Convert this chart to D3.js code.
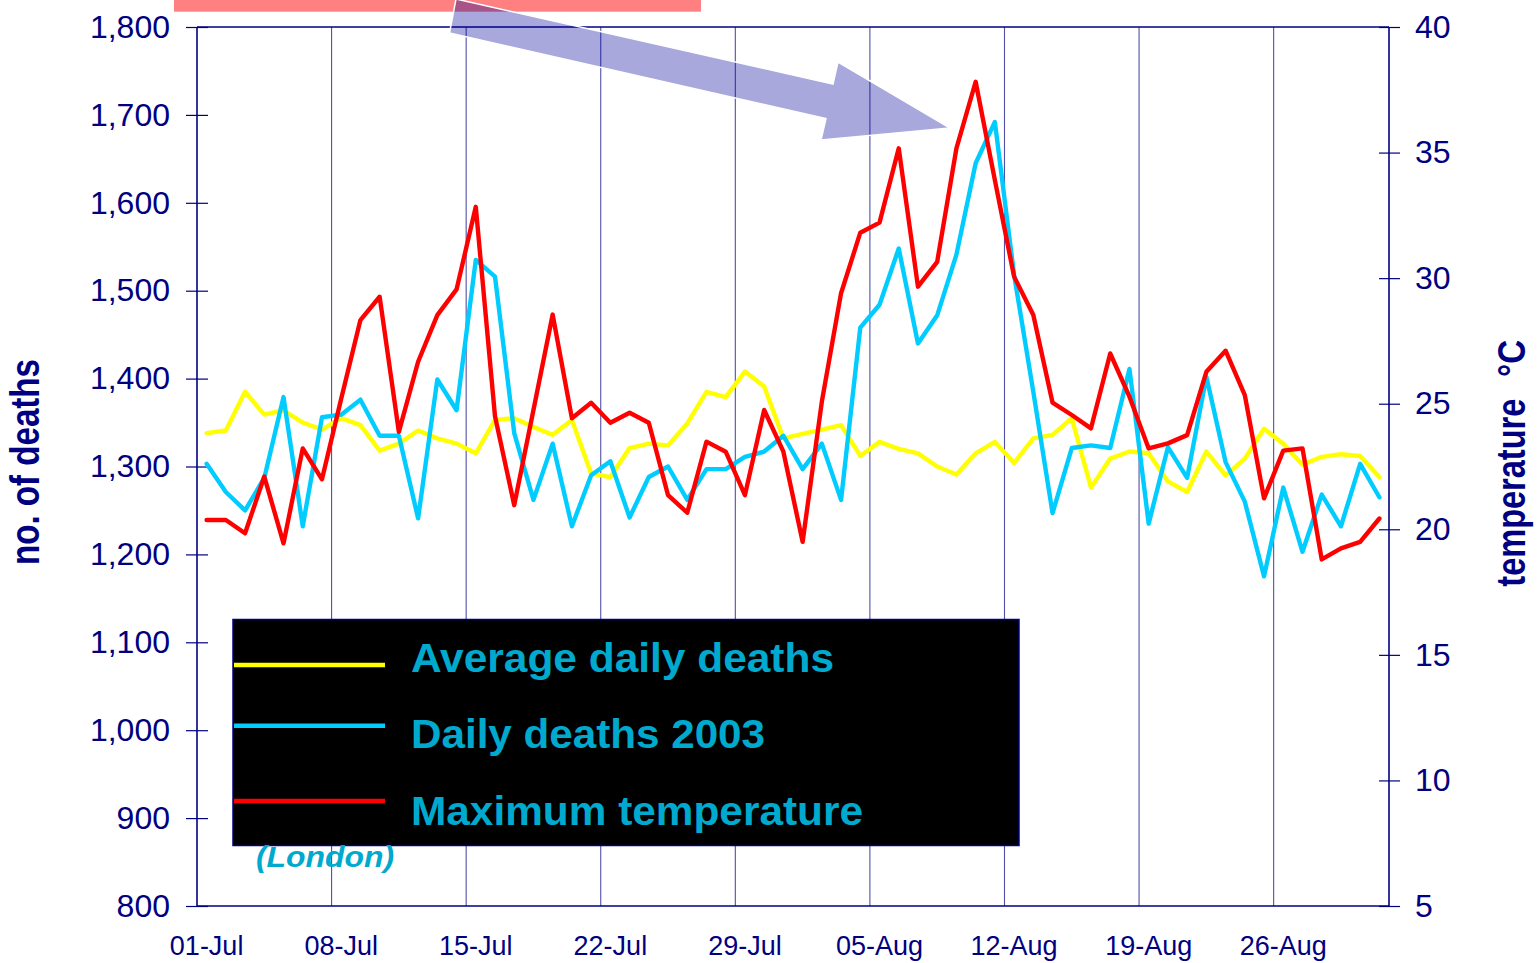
<!DOCTYPE html>
<html><head><meta charset="utf-8">
<script src="https://cdn.jsdelivr.net/npm/d3@7"></script>
<style>html,body{margin:0;padding:0;background:#fff;overflow:hidden}</style>
</head><body>
<svg id="chart" width="1539" height="963"></svg>
<script>
const categories = [
 "01-Jul","02-Jul","03-Jul","04-Jul","05-Jul","06-Jul","07-Jul","08-Jul","09-Jul","10-Jul",
 "11-Jul","12-Jul","13-Jul","14-Jul","15-Jul","16-Jul","17-Jul","18-Jul","19-Jul","20-Jul",
 "21-Jul","22-Jul","23-Jul","24-Jul","25-Jul","26-Jul","27-Jul","28-Jul","29-Jul","30-Jul",
 "31-Jul","01-Aug","02-Aug","03-Aug","04-Aug","05-Aug","06-Aug","07-Aug","08-Aug","09-Aug",
 "10-Aug","11-Aug","12-Aug","13-Aug","14-Aug","15-Aug","16-Aug","17-Aug","18-Aug","19-Aug",
 "20-Aug","21-Aug","22-Aug","23-Aug","24-Aug","25-Aug","26-Aug","27-Aug","28-Aug","29-Aug",
 "30-Aug","31-Aug"];
const tickLabels = ["01-Jul","08-Jul","15-Jul","22-Jul","29-Jul","05-Aug","12-Aug","19-Aug","26-Aug"];
const averageDailyDeaths = [
 1338,1341,1385,1359,1364,1350,1342,1355,1347,1318,
 1326,1341,1332,1326,1315,1353,1355,1345,1336,1353,
 1292,1288,1321,1326,1324,1349,1385,1379,1408,1391,
 1332,1337,1342,1347,1312,1328,1320,1315,1300,1291,
 1315,1328,1304,1332,1336,1355,1276,1309,1317,1315,
 1283,1271,1317,1290,1309,1343,1326,1302,1311,1314,
 1312,1288];
const dailyDeaths2003 = [
 1303,1271,1250,1287,1379,1232,1356,1359,1376,1335,
 1335,1241,1399,1364,1535,1516,1338,1262,1326,1232,
 1290,1306,1242,1288,1300,1262,1297,1297,1311,1317,
 1335,1297,1326,1262,1458,1484,1548,1440,1472,1541,
 1645,1692,1518,1385,1247,1321,1324,1321,1411,1235,
 1322,1287,1402,1305,1260,1175,1276,1203,1268,1232,
 1303,1265];
const maximumTemperature = [
 20.37,20.37,19.84,22.1,19.44,23.22,21.99,25.2,28.33,29.26,
 23.88,26.67,28.53,29.55,32.84,24.5,20.96,24.75,28.55,24.42,
 25.04,24.24,24.64,24.24,21.36,20.66,23.49,23.09,21.36,24.75,
 23.09,19.5,25.08,29.4,31.81,32.21,35.17,29.66,30.65,35.17,
 37.82,33.9,30.06,28.53,25.04,24.55,24.02,27.0,25.28,23.22,
 23.42,23.75,26.27,27.11,25.34,21.23,23.13,23.22,18.8,19.24,
 19.5,20.43];
const deathTicks = [800,900,1000,1100,1200,1300,1400,1500,1600,1700,1800];
const tempTicks = [5,10,15,20,25,30,35,40];
const seriesNames = ["Average daily deaths","Daily deaths 2003","Maximum temperature"];
const leftTitle = "no. of deaths";
const rightTitle = "temperature";
const rightUnit = "°C";
const placeNote = "(London)";

const svg = d3.select("#chart");
const FONT = "'Liberation Sans', Arial, Helvetica, sans-serif";
const NAVY = "#000080";
const TEAL = "#00A9CE";
const colors = ["#FFFF00", "#00CCFF", "#FF0000"];
const m = {left:197, right:1389, top:27, bottom:906};

const x = d3.scaleBand().domain(categories).range([m.left, m.right]).padding(0);
const yL = d3.scaleLinear().domain([800, 1800]).range([m.bottom, m.top]);
const yR = d3.scaleLinear().domain([5, 40]).range([m.bottom, m.top]);
const cx = d => x(d) + x.bandwidth() / 2;

// pink banner (partially off-page)
svg.append("rect").attr("x", 174).attr("y", -10).attr("width", 527).attr("height", 21.7)
  .attr("fill", "#FF8080");

// vertical gridlines at week boundaries
const grid = svg.append("g");
tickLabels.slice(1).forEach(lab => {
  const gx = x(lab);
  grid.append("line").attr("x1", gx).attr("x2", gx).attr("y1", m.top).attr("y2", m.bottom)
    .attr("stroke", "#5050A8").attr("stroke-width", 1.1);
});

// plot border
svg.append("line").attr("x1", m.left).attr("x2", m.right).attr("y1", m.top).attr("y2", m.top)
  .attr("stroke", NAVY).attr("stroke-width", 1.3);
svg.append("line").attr("x1", m.left).attr("x2", m.right).attr("y1", m.bottom).attr("y2", m.bottom)
  .attr("stroke", NAVY).attr("stroke-width", 1.6);
svg.append("line").attr("x1", m.left).attr("x2", m.left).attr("y1", m.top).attr("y2", m.bottom)
  .attr("stroke", NAVY).attr("stroke-width", 1.6);
svg.append("line").attr("x1", m.right).attr("x2", m.right).attr("y1", m.top).attr("y2", m.bottom)
  .attr("stroke", NAVY).attr("stroke-width", 1.6);

// left axis
const gl = svg.append("g").attr("transform", `translate(${m.left},0)`)
  .call(d3.axisLeft(yL).tickValues(deathTicks).tickFormat(d3.format(",")).tickSizeInner(11).tickSizeOuter(0).tickPadding(16));
gl.select(".domain").remove();
gl.selectAll(".tick line").attr("x1", -11).attr("x2", 11).attr("stroke", NAVY).attr("stroke-width", 1.2);
gl.selectAll(".tick text").attr("font-family", FONT).attr("font-size", 32).attr("fill", NAVY).attr("x", -27);

// right axis
const gr = svg.append("g").attr("transform", `translate(${m.right},0)`)
  .call(d3.axisRight(yR).tickValues(tempTicks).tickSizeInner(11).tickSizeOuter(0).tickPadding(16));
gr.select(".domain").remove();
gr.selectAll(".tick line").attr("x1", -10).attr("x2", 11).attr("stroke", NAVY).attr("stroke-width", 1.2);
gr.selectAll(".tick text").attr("font-family", FONT).attr("font-size", 32).attr("fill", NAVY).attr("x", 26);

// bottom axis
const gb = svg.append("g").attr("transform", `translate(0,${m.bottom})`)
  .call(d3.axisBottom(x).tickValues(tickLabels).tickSize(0).tickPadding(30));
gb.select(".domain").remove();
gb.selectAll(".tick text").attr("font-family", FONT).attr("font-size", 27).attr("fill", NAVY);

// lines
const seriesData = [
  {vals: averageDailyDeaths, y: yL},
  {vals: dailyDeaths2003, y: yL},
  {vals: maximumTemperature, y: yR}
];
seriesData.forEach((s, k) => {
  const line = d3.line().x((d, i) => cx(categories[i])).y(d => s.y(d));
  svg.append("path").datum(s.vals).attr("d", line).attr("fill", "none")
    .attr("stroke", colors[k]).attr("stroke-width", 4.4).attr("stroke-linejoin", "round").attr("stroke-linecap", "round");
});

// arrow annotation
const arrowPts = [[456,-1],[833,84],[838,62],[950,128],[821,140],[826,118.5],[449.5,33]];
svg.append("polygon").attr("points", arrowPts.map(p => p.join(",")).join(" "))
  .attr("fill", "#000099").attr("fill-opacity", 0.34).attr("stroke", "#fff").attr("stroke-width", 1.5);

// axis titles
svg.append("text").attr("transform", "translate(39,462) rotate(-90)")
  .attr("text-anchor", "middle").attr("font-family", FONT).attr("font-weight", "bold")
  .attr("font-size", 40).attr("fill", NAVY)
  .attr("textLength", 206).attr("lengthAdjust", "spacingAndGlyphs").text(leftTitle);
svg.append("text").attr("transform", "translate(1525,586.7) rotate(-90)")
  .attr("text-anchor", "start").attr("font-family", FONT).attr("font-weight", "bold")
  .attr("font-size", 40).attr("fill", NAVY)
  .attr("textLength", 188).attr("lengthAdjust", "spacingAndGlyphs").text(rightTitle);
svg.append("text").attr("transform", "translate(1525,377) rotate(-90)")
  .attr("text-anchor", "start").attr("font-family", FONT).attr("font-weight", "bold")
  .attr("font-size", 38).attr("fill", NAVY)
  .attr("textLength", 37).attr("lengthAdjust", "spacingAndGlyphs").text(rightUnit);

// legend
const lg = svg.append("g");
lg.append("rect").attr("x", 233).attr("y", 619.5).attr("width", 786).attr("height", 226)
  .attr("fill", "#000").attr("stroke", NAVY).attr("stroke-width", 1.5);
const legY = [665, 725.7, 801];
const legTextY = [671.7, 748.3, 825];
const legLen = [423, 354, 452];
seriesNames.forEach((nm, k) => {
  lg.append("line").attr("x1", 234).attr("x2", 385).attr("y1", legY[k]).attr("y2", legY[k])
    .attr("stroke", colors[k]).attr("stroke-width", 4.5);
  lg.append("text").attr("x", 411).attr("y", legTextY[k]).attr("font-family", FONT)
    .attr("font-weight", "bold").attr("font-size", 41).attr("fill", TEAL)
    .attr("textLength", legLen[k]).attr("lengthAdjust", "spacingAndGlyphs").text(nm);
});
svg.append("text").attr("x", 256).attr("y", 867).attr("font-family", FONT)
  .attr("font-weight", "bold").attr("font-style", "italic").attr("font-size", 30).attr("fill", TEAL)
  .attr("textLength", 138).attr("lengthAdjust", "spacingAndGlyphs").text(placeNote);
</script>
</body></html>
